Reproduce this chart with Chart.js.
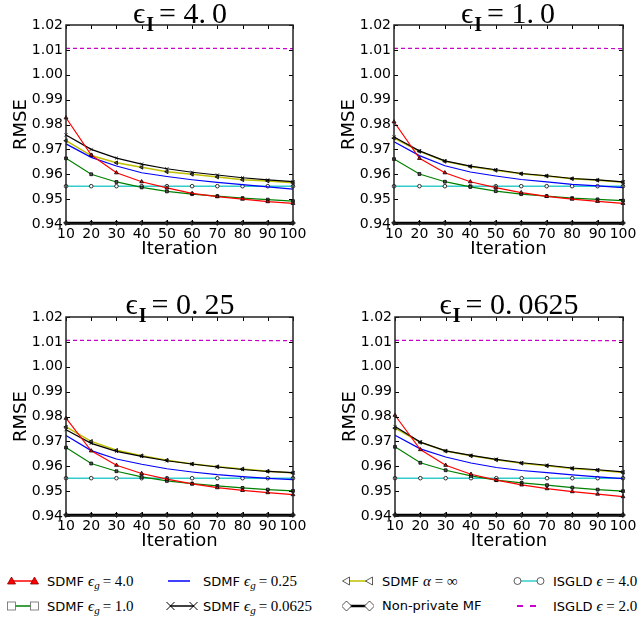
<!DOCTYPE html>
<html>
<head>
<meta charset="utf-8">
<script src="https://cdn.jsdelivr.net/npm/chart.js@4.4.0/dist/chart.umd.min.js"></script>
<style>
body { margin:0; background:#fff; }
#wrap { position:relative; width:643px; height:619px; overflow:hidden; background:#fff; }
#wrap canvas { position:absolute; }
.ptitle { position:absolute; width:240px; text-align:center; font-family:'Liberation Serif','DejaVu Serif',serif; font-size:30px; line-height:34px; color:#000; white-space:nowrap; }
.ptitle sub { font-weight:bold; font-size:20px; vertical-align:-8px; line-height:0; margin-left:1px; margin-right:5px; }
.dot { margin-right:6px; }
.sym { position:absolute; }
.ltxt { position:absolute; font-family:'DejaVu Sans',sans-serif; font-size:13px; line-height:20px; white-space:nowrap; color:#000; }
.m { font-family:'Liberation Serif','DejaVu Serif',serif; font-size:15px; }
.m sub { font-style:italic; font-size:11px; vertical-align:-3px; line-height:0; margin-right:3px; }
</style>
</head>
<body>
<div id="wrap">
    <canvas id="c0" width="320" height="290" style="left:0;top:0"></canvas>
    <canvas id="c1" width="323" height="290" style="left:320px;top:0"></canvas>
    <canvas id="c2" width="320" height="270" style="left:0;top:290px"></canvas>
    <canvas id="c3" width="323" height="270" style="left:320px;top:290px"></canvas>
</div>

<script type="text/JavaScript">

//------------------------------------------------------------------------------------------
// Data
//------------------------------------------------------------------------------------------

var iterations = [10, 20, 30, 40, 50, 60, 70, 80, 90, 100];
var yTicks = [0.94, 0.95, 0.96, 0.97, 0.98, 0.99, 1.00, 1.01, 1.02];
var panelEps = ["4.0", "1.0", "0.25", "0.0625"];

// eps_I = 4.0
var a_eg4     = [0.9827, 0.9677, 0.9606, 0.9570, 0.9545, 0.9523, 0.9510, 0.9500, 0.9490, 0.9483];
var a_eg1     = [0.9664, 0.9600, 0.9569, 0.9547, 0.9531, 0.9520, 0.9512, 0.9504, 0.9498, 0.9492];
var a_eg025   = [0.9722, 0.9668, 0.9633, 0.9606, 0.9591, 0.9578, 0.9567, 0.9558, 0.9549, 0.9540];
var a_eg00625 = [0.9758, 0.9700, 0.9665, 0.9641, 0.9622, 0.9608, 0.9597, 0.9586, 0.9577, 0.9570];
var a_alpha   = [0.9735, 0.9675, 0.9646, 0.9628, 0.9610, 0.9600, 0.9589, 0.9578, 0.9573, 0.9566];
var a_nonpriv = [0.9404, 0.9404, 0.9404, 0.9404, 0.9404, 0.9404, 0.9404, 0.9404, 0.9404, 0.9404];
var a_isgld4  = [0.9552, 0.9552, 0.9552, 0.9552, 0.9552, 0.9552, 0.9552, 0.9552, 0.9552, 0.9552];
var a_isgld2  = [1.0106, 1.0106, 1.0106, 1.0106, 1.0106, 1.0106, 1.0106, 1.0106, 1.0106, 1.0105];

// eps_I = 1.0
var b_eg4     = [0.9811, 0.9664, 0.9606, 0.9570, 0.9546, 0.9526, 0.9511, 0.9500, 0.9491, 0.9483];
var b_eg1     = [0.9661, 0.9601, 0.9570, 0.9549, 0.9532, 0.9520, 0.9512, 0.9504, 0.9499, 0.9494];
var b_eg025   = [0.9731, 0.9675, 0.9634, 0.9609, 0.9593, 0.9579, 0.9569, 0.9559, 0.9553, 0.9546];
var b_eg00625 = [0.9750, 0.9694, 0.9654, 0.9633, 0.9618, 0.9603, 0.9594, 0.9583, 0.9577, 0.9569];
var b_alpha   = [0.9745, 0.9692, 0.9652, 0.9631, 0.9616, 0.9602, 0.9593, 0.9582, 0.9576, 0.9568];
var b_nonpriv = [0.9404, 0.9404, 0.9404, 0.9404, 0.9404, 0.9404, 0.9404, 0.9404, 0.9404, 0.9404];
var b_isgld4  = [0.9552, 0.9552, 0.9552, 0.9552, 0.9552, 0.9552, 0.9552, 0.9552, 0.9552, 0.9552];
var b_isgld2  = [1.0106, 1.0106, 1.0106, 1.0106, 1.0106, 1.0106, 1.0106, 1.0106, 1.0106, 1.0105];

// eps_I = 0.25
var c_eg4     = [0.9793, 0.9662, 0.9604, 0.9571, 0.9548, 0.9529, 0.9514, 0.9503, 0.9494, 0.9486];
var c_eg1     = [0.9675, 0.9611, 0.9580, 0.9557, 0.9541, 0.9530, 0.9521, 0.9513, 0.9506, 0.9501];
var c_eg025   = [0.9724, 0.9663, 0.9629, 0.9608, 0.9590, 0.9577, 0.9566, 0.9558, 0.9551, 0.9546];
var c_eg00625 = [0.9747, 0.9692, 0.9660, 0.9640, 0.9622, 0.9609, 0.9597, 0.9587, 0.9579, 0.9574];
var c_alpha   = [0.9758, 0.9700, 0.9664, 0.9642, 0.9624, 0.9609, 0.9598, 0.9589, 0.9580, 0.9573];
var c_nonpriv = [0.9404, 0.9404, 0.9404, 0.9404, 0.9404, 0.9404, 0.9404, 0.9404, 0.9404, 0.9404];
var c_isgld4  = [0.9552, 0.9552, 0.9552, 0.9552, 0.9552, 0.9552, 0.9552, 0.9552, 0.9552, 0.9552];
var c_isgld2  = [1.0106, 1.0106, 1.0106, 1.0106, 1.0106, 1.0106, 1.0106, 1.0106, 1.0105, 1.0105];

// eps_I = 0.0625
var d_eg4     = [0.9805, 0.9667, 0.9604, 0.9568, 0.9544, 0.9525, 0.9510, 0.9498, 0.9488, 0.9478];
var d_eg1     = [0.9678, 0.9614, 0.9584, 0.9561, 0.9544, 0.9533, 0.9524, 0.9514, 0.9506, 0.9500];
var d_eg025   = [0.9725, 0.9670, 0.9637, 0.9613, 0.9595, 0.9583, 0.9574, 0.9565, 0.9557, 0.9550];
var d_eg00625 = [0.9760, 0.9697, 0.9662, 0.9644, 0.9628, 0.9614, 0.9604, 0.9593, 0.9586, 0.9577];
var d_alpha   = [0.9753, 0.9696, 0.9661, 0.9642, 0.9626, 0.9612, 0.9602, 0.9591, 0.9584, 0.9575];
var d_nonpriv = [0.9404, 0.9404, 0.9404, 0.9404, 0.9404, 0.9404, 0.9404, 0.9404, 0.9404, 0.9404];
var d_isgld4  = [0.9552, 0.9552, 0.9552, 0.9552, 0.9552, 0.9552, 0.9552, 0.9552, 0.9552, 0.9552];
var d_isgld2  = [1.0106, 1.0106, 1.0106, 1.0106, 1.0106, 1.0106, 1.0106, 1.0106, 1.0105, 1.0105];

var panelData = [
    [a_eg4, a_eg1, a_eg025, a_eg00625, a_alpha, a_nonpriv, a_isgld4, a_isgld2],
    [b_eg4, b_eg1, b_eg025, b_eg00625, b_alpha, b_nonpriv, b_isgld4, b_isgld2],
    [c_eg4, c_eg1, c_eg025, c_eg00625, c_alpha, c_nonpriv, c_isgld4, c_isgld2],
    [d_eg4, d_eg1, d_eg025, d_eg00625, d_alpha, d_nonpriv, d_isgld4, d_isgld2]
];

//------------------------------------------------------------------------------------------
// Series styles (same order as the data arrays)
//------------------------------------------------------------------------------------------

var seriesNames = ["SDMF eg=4.0", "SDMF eg=1.0", "SDMF eg=0.25", "SDMF eg=0.0625",
                   "SDMF alpha=inf", "Non-private MF", "ISGLD e=4.0", "ISGLD e=2.0"];
var styles = [
    {color: "#ff0000", width: 1.2, point: "triangle",  r: 2.2, fill: "#ff0000", rot: 0},
    {color: "#008000", width: 1.2, point: "rect",      r: 2.0, fill: "#555555", rot: 0},
    {color: "#0000ff", width: 1.2, point: false,       r: 0,   fill: "#0000ff", rot: 0},
    {color: "#000000", width: 1.2, point: "crossRot",  r: 2.2, fill: "#000000", rot: 0},
    {color: "#bfbf00", width: 1.5, point: "triangle",  r: 2.2, fill: "#555555", rot: -90},
    {color: "#000000", width: 2.5, point: "rectRot",   r: 2.4, fill: "#333333", rot: 0},
    {color: "#33cccc", width: 1.6, point: "circle",    r: 1.8, fill: "#ffffff", rot: 0},
    {color: "#cc00cc", width: 1.2, point: false,       r: 0,   fill: "#cc00cc", rot: 0, dash: [4, 3]}
];

// per panel layout (pixels inside each canvas)
var layouts = [
    {yW: 66, padT: 25, padR: 27, xH: 66, yTitlePad: 11, xTitlePad: 30, titleL: 60,  titleT: -4},
    {yW: 74, padT: 25, padR: 20, xH: 66, yTitlePad: 19, xTitlePad: 30, titleL: 388, titleT: -4},
    {yW: 66, padT: 27, padR: 27, xH: 44, yTitlePad: 11, xTitlePad: 8,  titleL: 60,  titleT: 287},
    {yW: 75, padT: 27, padR: 20, xH: 44, yTitlePad: 20, xTitlePad: 8,  titleL: 389, titleT: 287}
];

//------------------------------------------------------------------------------------------
// frame + inward tick marks, like the classic matplotlib axes
//------------------------------------------------------------------------------------------
var framePlugin = {
    id: "frame",
    afterDraw: function(chart) {
        var ctx = chart.ctx;
        var a = chart.chartArea;
        var xs = chart.scales.x, ys = chart.scales.y;
        ctx.save();
        ctx.strokeStyle = "#000";
        ctx.lineWidth = 1;
        ctx.beginPath();
        for (var i in iterations) {
            var px = Math.round(xs.getPixelForValue(iterations[i])) + 0.5;
            ctx.moveTo(px, a.bottom); ctx.lineTo(px, a.bottom - 4);
            ctx.moveTo(px, a.top);    ctx.lineTo(px, a.top + 4);
        }
        for (var j in yTicks) {
            var py = Math.round(ys.getPixelForValue(yTicks[j])) + 0.5;
            ctx.moveTo(a.left, py);  ctx.lineTo(a.left + 4, py);
            ctx.moveTo(a.right, py); ctx.lineTo(a.right - 4, py);
        }
        ctx.stroke();
        ctx.strokeStyle = "#222";
        ctx.lineWidth = 1.5;
        ctx.strokeRect(a.left, a.top, a.right - a.left, a.bottom - a.top);
        ctx.restore();
    }
};

//------------------------------------------------------------------------------------------
function makeChart(k) {
    var lay = layouts[k];
    var datasets = [];
    for (var s = 0; s < styles.length; s++) {
        var st = styles[s];
        var pts = [];
        for (var i = 0; i < iterations.length; i++) {
            pts.push({x: iterations[i], y: panelData[k][s][i]});
        }
        datasets.push({
            label: seriesNames[s],
            data: pts,
            borderColor: st.color,
            borderWidth: st.width,
            borderDash: st.dash || [],
            pointStyle: st.point,
            pointRadius: st.r,
            pointRotation: st.rot,
            pointBackgroundColor: st.fill,
            pointBorderColor: "#000",
            pointBorderWidth: 0.8,
            tension: 0,
            fill: false,
            clip: 4
        });
    }
    var ctx = document.getElementById("c" + k).getContext("2d");
    new Chart(ctx, {
        type: "line",
        data: {datasets: datasets},
        options: {
            responsive: false,
            animation: false,
            layout: {padding: {left: 0, top: lay.padT, right: lay.padR, bottom: 0}},
            plugins: {legend: {display: false}, tooltip: {enabled: false}},
            scales: {
                x: {
                    type: "linear", min: 10, max: 100,
                    afterBuildTicks: function(sc) { sc.ticks = iterations.map(function(v) { return {value: v}; }); },
                    afterFit: function(sc) { sc.height = lay.xH; },
                    grid: {display: false, drawTicks: false},
                    border: {display: false},
                    ticks: {color: "#000", padding: 2, maxRotation: 0, autoSkip: false,
                            font: {family: "DejaVu Sans", size: 14}},
                    title: {display: true, text: "Iteration", color: "#000",
                            padding: {top: 0, bottom: lay.xTitlePad},
                            font: {family: "DejaVu Sans", size: 18}}
                },
                y: {
                    min: 0.94, max: 1.02,
                    afterBuildTicks: function(sc) { sc.ticks = yTicks.map(function(v) { return {value: v}; }); },
                    afterFit: function(sc) { sc.width = lay.yW; },
                    grid: {display: false, drawTicks: false},
                    border: {display: false},
                    ticks: {color: "#000", padding: 3, autoSkip: false,
                            font: {family: "DejaVu Sans", size: 14},
                            callback: function(v) { return Number(v).toFixed(2); }},
                    title: {display: true, text: "RMSE", color: "#000",
                            padding: {top: lay.yTitlePad, bottom: 0},
                            font: {family: "DejaVu Sans", size: 18}}
                }
            }
        },
        plugins: [framePlugin]
    });

    // panel title
    var t = document.createElement("div");
    t.className = "ptitle";
    var parts = panelEps[k].split(".");
    t.innerHTML = "\u03F5<sub>I</sub>= " + parts[0] + '<span class="dot">.</span>' + parts[1];
    t.style.left = lay.titleL + "px";
    t.style.top = lay.titleT + "px";
    document.getElementById("wrap").appendChild(t);
}

for (var k = 0; k < 4; k++) makeChart(k);

//------------------------------------------------------------------------------------------
// legend under the panels
//------------------------------------------------------------------------------------------
var legendText = [
    'SDMF <span class="m"><i>\u03F5</i><sub>g</sub>= 4.0</span>',
    'SDMF <span class="m"><i>\u03F5</i><sub>g</sub>= 1.0</span>',
    'SDMF <span class="m"><i>\u03F5</i><sub>g</sub>= 0.25</span>',
    'SDMF <span class="m"><i>\u03F5</i><sub>g</sub>= 0.0625</span>',
    'SDMF <span class="m"><i>\u03B1</i> = \u221E</span>',
    'Non-private MF',
    'ISGLD <span class="m"><i>\u03F5</i> = 4.0</span>',
    'ISGLD <span class="m"><i>\u03F5</i> = 2.0</span>'
];
var legendPos = [   // symbol x, text x, row centre y
    [7, 47, 581], [7, 47, 606], [166, 203, 581], [166, 203, 606],
    [342, 382, 581], [342, 382, 606], [513, 553, 581], [513, 553, 606]
];

function marker(kind, x, y, fill, edge) {
    if (kind === "triangle") return '<polygon points="' + x + ',' + (y - 4) + ' ' + (x - 4) + ',' + (y + 3) + ' ' + (x + 4) + ',' + (y + 3) + '" fill="' + fill + '" stroke="' + edge + '" stroke-width="0.8"/>';
    if (kind === "tleft") return '<polygon points="' + (x - 4) + ',' + y + ' ' + (x + 3) + ',' + (y - 4) + ' ' + (x + 3) + ',' + (y + 4) + '" fill="' + fill + '" stroke="' + edge + '" stroke-width="0.8"/>';
    if (kind === "rect") return '<rect x="' + (x - 4) + '" y="' + (y - 4) + '" width="8" height="8" fill="' + fill + '" stroke="' + edge + '" stroke-width="0.8"/>';
    if (kind === "diamond") return '<polygon points="' + x + ',' + (y - 5) + ' ' + (x + 5) + ',' + y + ' ' + x + ',' + (y + 5) + ' ' + (x - 5) + ',' + y + '" fill="' + fill + '" stroke="' + edge + '" stroke-width="0.8"/>';
    if (kind === "circle") return '<circle cx="' + x + '" cy="' + y + '" r="3.5" fill="' + fill + '" stroke="' + edge + '" stroke-width="0.8"/>';
    if (kind === "cross") return '<path d="M' + (x - 4) + ' ' + (y - 4) + 'L' + (x + 4) + ' ' + (y + 4) + 'M' + (x - 4) + ' ' + (y + 4) + 'L' + (x + 4) + ' ' + (y - 4) + '" stroke="' + edge + '" stroke-width="1"/>';
    return "";
}
var legendMarkers = [
    ["triangle", "#ff0000", "#8b0000"], ["rect", "#ffffff", "#666"], [null], ["cross", "#000", "#000"],
    ["tleft", "#ffffff", "#333"], ["diamond", "#ffffff", "#222"], ["circle", "#ffffff", "#333"], [null]
];

var wrap = document.getElementById("wrap");
for (var s = 0; s < 8; s++) {
    var p = legendPos[s];
    var st = styles[s];
    var mk = legendMarkers[s];
    var svg = '<svg width="32" height="14" xmlns="http://www.w3.org/2000/svg">';
    if (s === 7) {
        svg += '<line x1="4" y1="7" x2="28" y2="7" stroke="' + st.color + '" stroke-width="2" stroke-dasharray="6,7"/>';
    } else if (s === 2) {
        svg += '<line x1="2" y1="7" x2="24" y2="7" stroke="' + st.color + '" stroke-width="1.5"/>';
    } else {
        svg += '<line x1="4" y1="7" x2="28" y2="7" stroke="' + st.color + '" stroke-width="' + (s === 5 ? 2.5 : 1.5) + '"/>';
        svg += marker(mk[0], 4.5, 7, mk[1], mk[2]) + marker(mk[0], 27.5, 7, mk[1], mk[2]);
    }
    svg += "</svg>";
    var d = document.createElement("div");
    d.className = "sym";
    d.style.left = p[0] + "px";
    d.style.top = (p[2] - 7) + "px";
    d.innerHTML = svg;
    wrap.appendChild(d);

    var tx = document.createElement("div");
    tx.className = "ltxt";
    tx.style.left = p[1] + "px";
    tx.style.top = (p[2] - 10) + "px";
    tx.innerHTML = legendText[s];
    wrap.appendChild(tx);
}

</script>
</body>
</html>
